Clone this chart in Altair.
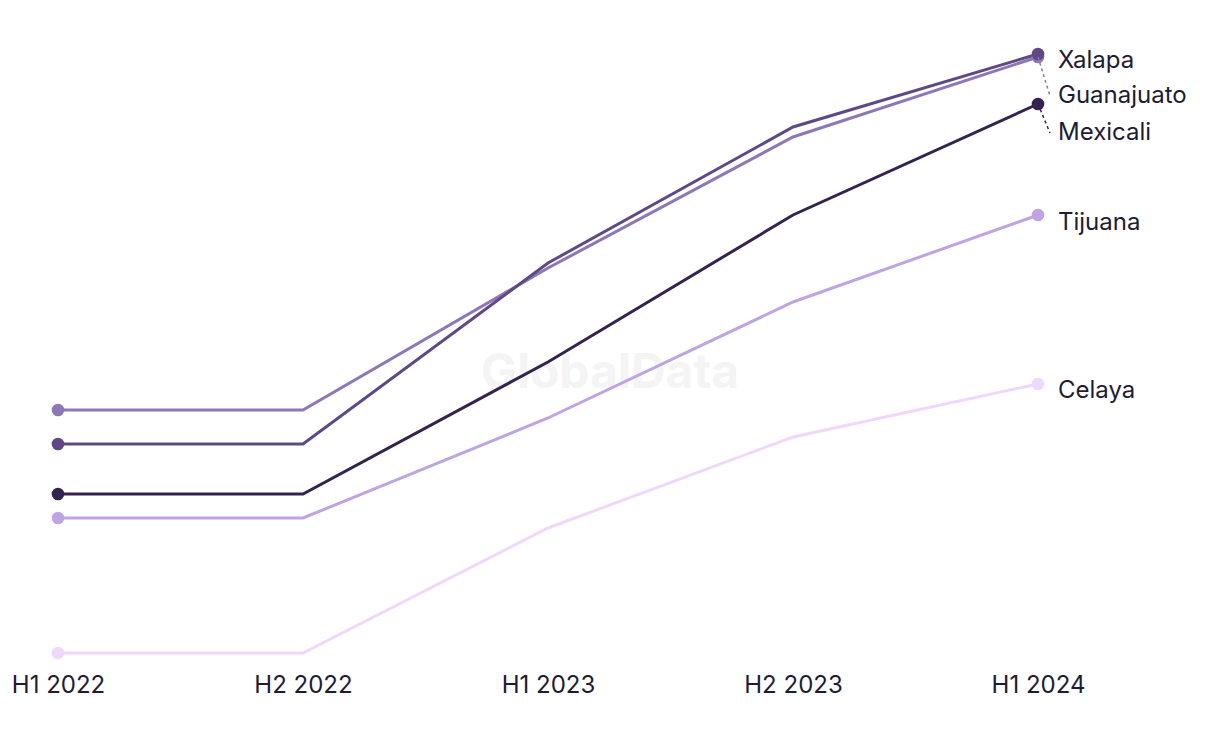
import altair as alt
import pandas as pd

periods = ["H1 2022", "H2 2022", "H1 2023", "H2 2023", "H1 2024"]
cities = ["Celaya", "Tijuana", "Guanajuato", "Xalapa", "Mexicali"]
colors = ["#EFD8FB", "#BFA4E3", "#8E77B5", "#5E4984", "#35234F"]

celaya = [8.5, 8.5, 71, 116.5, 143]
tijuana = [76, 76, 126, 184, 227.5]
guanajuato = [130, 130, 201, 266.5, 306.5]
xalapa = [113, 113, 203.5, 271.5, 308]
mexicali = [88, 88, 154, 227.5, 283]

# label anchor values (data units) for the end labels
label_values = [139.5, 223.5, 287, 304.5, 268.5]

series = [celaya, tijuana, guanajuato, xalapa, mexicali]

rows = []
for c, vals in zip(cities, series):
    for i, (p, v) in enumerate(zip(periods, vals)):
        rows.append({"city": c, "period": p, "idx": i, "value": v})
df = pd.DataFrame(rows)
ends = df[df["idx"].isin([0, len(periods) - 1])]

lab = pd.DataFrame({
    "city": cities,
    "period": [periods[-1]] * len(cities),
    "value": [s[-1] for s in series],
    "label_value": label_values,
})
lead = lab[lab["city"].isin(["Guanajuato", "Mexicali"])]

FONT = "Inter"
TXT = "#1D1C33"

xscale = alt.Scale(type="point", padding=0, domain=periods)
xs = alt.X("period:O", scale=xscale,
           axis=alt.Axis(title=None, labelAngle=0, domain=False, ticks=False, grid=False,
                         labelFontSize=24, labelFont=FONT, labelColor=TXT, labelPadding=3))
ys = alt.Y("value:Q", scale=alt.Scale(domain=[0, 325], nice=False, zero=False), axis=None)
col = alt.Color("city:N", scale=alt.Scale(domain=cities, range=colors), legend=None)

watermark = alt.Chart(pd.DataFrame({"t": ["GlobalData"]})).mark_text(
    font=FONT, fontSize=48, fontWeight="bold", color="#F4F4F4", align="center", baseline="middle"
).encode(text="t:N", x=alt.value(552), y=alt.value(354))

lines = alt.Chart(df).mark_line(strokeWidth=3).encode(x=xs, y=ys, color=col, order=alt.Order("idx:Q"))
pts = alt.Chart(ends).mark_circle(size=160, opacity=1).encode(x=xs, y=ys, color=col)

leaders = alt.Chart(lead).mark_rule(strokeDash=[3, 3], strokeWidth=1.5, x2Offset=12).encode(
    x=alt.X("period:O", scale=xscale),
    x2="period:O",
    y="value:Q", y2="label_value:Q",
    color=col,
)

labels = alt.Chart(lab).mark_text(
    font=FONT, fontSize=24, color=TXT, align="left", baseline="middle", dx=20
).encode(
    x=alt.X("period:O", scale=xscale),
    y="label_value:Q",
    text="city:N",
)

chart = alt.layer(watermark, lines, pts, leaders, labels).properties(
    width=980, height=650,
    background="white",
    autosize=alt.AutoSizeParams(type="none"),
    padding={"left": 58, "top": 20, "right": 182, "bottom": 74},
).configure_view(strokeWidth=0, stroke=None)

chart.save("out.html", embed_options={"renderer": "svg", "actions": False})
